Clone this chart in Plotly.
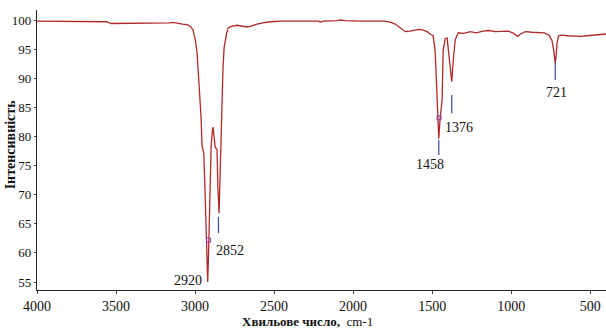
import plotly.graph_objects as go

# Spectrum (wavenumber, intensity)
wavenumber = [4000, 3800, 3640, 3560, 3530, 3400, 3300, 3200, 3160, 3140, 3110, 3080, 3050,
              3030, 3013, 2998, 2987, 2975, 2962, 2956, 2950, 2945, 2937, 2930, 2924, 2920,
              2916, 2912, 2905, 2898, 2892, 2886, 2880, 2873, 2866, 2861, 2856, 2852, 2848,
              2843, 2836, 2829, 2823, 2816, 2810, 2800, 2791, 2770, 2734, 2700, 2671, 2640,
              2608, 2570, 2525, 2450, 2300, 2215, 2208, 2190, 2100, 2082, 2050, 1950, 1800,
              1760, 1734, 1700, 1670, 1640, 1610, 1585, 1560, 1532, 1513, 1494, 1481, 1468,
              1458, 1450, 1437, 1430, 1418, 1405, 1395, 1385, 1376, 1368, 1360, 1354, 1335,
              1300, 1260, 1220, 1180, 1140, 1100, 1060, 1020, 990, 960, 940, 910, 870, 830,
              790, 760, 742, 732, 724, 721, 716, 710, 700, 680, 640, 600, 560, 520, 480, 440, 400]
intensity = [99.8, 99.8, 99.8, 99.7, 99.4, 99.4, 99.4, 99.4, 99.5, 99.6, 99.4, 99.3, 99.2,
             98.9, 98.3, 96.5, 94.3, 89.2, 83.3, 78.4, 77.6, 77.2, 70.8, 65.0, 60.5, 55.0,
             58.5, 63.4, 74.8, 78.5, 80.5, 81.6, 80.0, 78.2, 77.9, 77.7, 71.5, 67.5, 66.8,
             72.0, 80.6, 86.3, 92.0, 95.3, 96.6, 97.8, 98.6, 98.9, 99.1, 98.9, 98.8, 99.0,
             99.3, 99.5, 99.7, 99.8, 99.8, 99.8, 99.6, 99.8, 99.9, 100.0, 99.9, 99.8, 99.8,
             99.6, 99.3, 98.6, 98.0, 98.1, 98.2, 98.4, 98.3, 98.0, 97.6, 97.3, 94.8, 86.3,
             79.6, 83.0, 86.3, 94.8, 96.8, 96.9, 94.5, 91.5, 89.4, 92.5, 95.5, 96.6, 97.8,
             97.7, 98.0, 97.8, 98.1, 98.2, 98.0, 98.0, 98.1, 97.8, 97.2, 97.6, 98.0, 97.9, 97.8,
             97.8, 97.4, 96.5, 95.0, 93.2, 92.6, 93.8, 96.0, 97.3, 97.4, 97.3, 97.2, 97.2,
             97.3, 97.4, 97.5, 97.6]

# Labelled peaks
peak_labels = ["2920", "2852", "1458", "1376", "721"]
peak_pos = [2920, 2852, 1458, 1376, 721]
tick_top = [55.0, 66.2, 79.4, 87.1, 92.6]
tick_bottom = [55.0, 63.4, 76.8, 84.0, 89.7]
label_y = [55.3, 60.5, 75.1, 81.6, 87.6]
label_xshift = [-4, -4, -9, 7, 1]
label_anchor = ["right", "left", "center", "center", "center"]

# Cursor markers on the curve
cursor_x = [2914, 1456]
cursor_y = [62.2, 83.2]

y_ticks = [55, 60, 65, 70, 75, 80, 85, 90, 95, 100]
x_ticks = [4000, 3500, 3000, 2500, 2000, 1500, 1000, 500]

fig = go.Figure()
fig.add_trace(go.Scatter(x=wavenumber, y=intensity, mode="lines",
                         line=dict(color="#b02828", width=1.3), hoverinfo="skip"))

tx, ty = [], []
for p, a, b in zip(peak_pos, tick_top, tick_bottom):
    if a != b:
        tx += [p, p, None]
        ty += [a, b, None]
fig.add_trace(go.Scatter(x=tx, y=ty, mode="lines",
                         line=dict(color="#3c4a9a", width=1.2), hoverinfo="skip"))
fig.add_trace(go.Scatter(x=cursor_x, y=cursor_y, mode="markers",
                         marker=dict(symbol="square-open", size=4, color="#8a3aa0", line=dict(width=1)),
                         hoverinfo="skip"))

for lab, p, ly, xs, anc in zip(peak_labels, peak_pos, label_y, label_xshift, label_anchor):
    fig.add_annotation(x=p, y=ly, text=lab, showarrow=False, xanchor=anc, yanchor="middle",
                       xshift=xs, font=dict(family="Liberation Serif", size=14, color="#111"))

fig.add_annotation(x=0.5, y=-0.111, xref="paper", yref="paper", xshift=-14,
                   xanchor="center", yanchor="middle",
                   text="<b>Хвильове число,</b>  cm-1", showarrow=False,
                   font=dict(family="Liberation Serif", size=13, color="#111"))
fig.add_annotation(x=-0.0475, y=0.52, xref="paper", yref="paper", textangle=-90,
                   xanchor="center", yanchor="middle",
                   text="<b>Інтенсивність</b>", showarrow=False,
                   font=dict(family="Liberation Serif", size=14, color="#111"))

fig.update_layout(
    width=606, height=329,
    margin=dict(l=37, r=0, t=10, b=39),
    paper_bgcolor="white", plot_bgcolor="white",
    showlegend=False,
    xaxis=dict(range=[4000, 400], tickvals=x_ticks, ticks="outside", ticklen=3,
               showline=True, linecolor="#222", linewidth=1.3, showgrid=False, zeroline=False,
               tickfont=dict(family="Liberation Serif", size=14, color="#111")),
    yaxis=dict(range=[53.63, 101.72], tickvals=y_ticks, ticks="outside", ticklen=2,
               showline=True, linecolor="#222", linewidth=1.3, showgrid=False, zeroline=False,
               tickfont=dict(family="Liberation Serif", size=13, color="#111"), ticklabelstandoff=0),
)

fig.write_html("out.html")
